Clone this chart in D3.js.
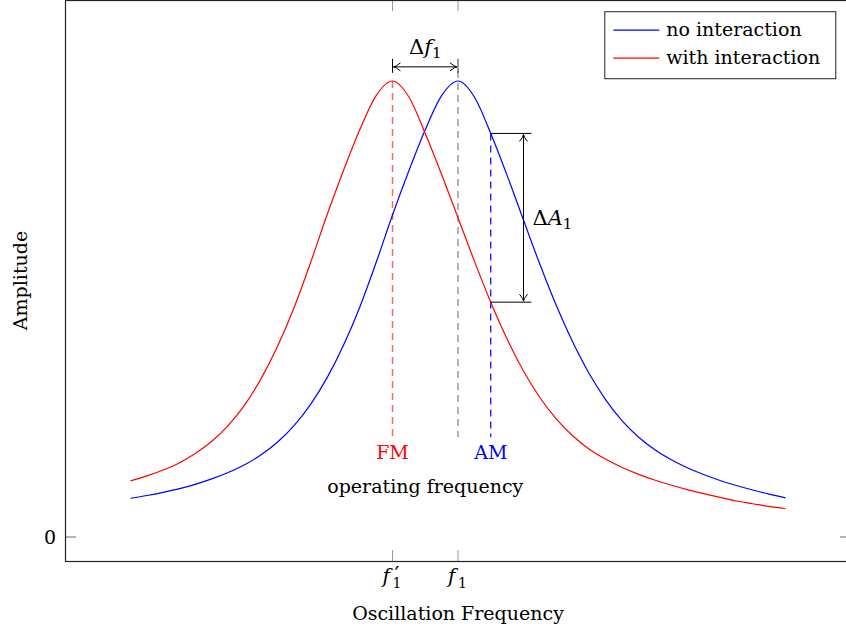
<!DOCTYPE html>
<html>
<head>
<meta charset="utf-8">
<script src="https://cdn.jsdelivr.net/npm/d3@7/dist/d3.min.js"></script>
<style>
  body { margin: 0; background: #fff; }
  svg { display: block; font-family: "DejaVu Serif", "Liberation Serif", serif; }
</style>
</head>
<body>
<svg id="chart"></svg>
<script>
// frequency grid (arbitrary units, f1 = 1.0)
const freq = [0.500,0.525,0.550,0.575,0.600,0.625,0.650,0.675,0.700,0.725,0.750,0.775,0.800,0.825,0.850,0.875,0.900,0.925,0.950,0.975,1.000,
              1.025,1.050,1.075,1.100,1.125,1.150,1.175,1.200,1.225,1.250,1.275,1.300,1.325,1.350,1.375,1.400,1.425,1.450,1.475,1.500];

// amplitude, peak normalised to 1
const ampNoInteraction = [0.085,0.091,0.098,0.106,0.116,0.128,0.142,0.159,0.181,0.209,0.245,0.291,0.349,0.420,0.504,0.602,0.706,0.803,0.893,0.968,1.000,
                          0.965,0.885,0.793,0.695,0.598,0.508,0.428,0.359,0.302,0.256,0.220,0.192,0.170,0.152,0.137,0.124,0.113,0.103,0.094,0.086];
const ampWithInteraction = [0.123,0.134,0.147,0.163,0.184,0.211,0.246,0.291,0.349,0.420,0.504,0.602,0.706,0.803,0.893,0.968,1.000,
                            0.965,0.885,0.795,0.700,0.605,0.515,0.434,0.364,0.306,0.259,0.222,0.193,0.171,0.153,0.138,0.125,0.114,0.104,0.095,0.087,0.079,0.073,0.067,0.062];

const seriesNames = ["no interaction", "with interaction"];
const seriesColors = ["#0000ff", "#ff0000"];

// x ticks: f1' and f1  (base, superscript, subscript)
const xTickValues = [0.9, 1.0];
const xTickLabels = [["f", "′", "1"], ["f", "", "1"]];
const yTickValues = [0];

// operating points
const fPrime = 0.9, f1 = 1.0, fAM = 1.05;
const markerBottom = 0.219;       // where the dashed markers stop
const ampAtAM_blue = 0.885, ampAtAM_red = 0.515;

let svg = d3.select("#chart")
    .attr("width", 846)
    .attr("height", 633),
  margin = {top: 0, right: 0, bottom: 72, left: 65},
  width = 786,
  height = 561,
  g = svg.append("g").attr("transform", "translate(" + margin.left + "," + margin.top + ")");

let x = d3.scaleLinear().domain([0.4, 1.6]).range([0, width]);
let y = d3.scaleLinear().domain([-0.0526, 1.1776]).range([height, 0]);

// ticks (inside, both sides)
g.selectAll(".xtick-b").data(xTickValues).enter().append("line")
  .attr("x1", d => x(d)).attr("x2", d => x(d))
  .attr("y1", height).attr("y2", height - 11)
  .attr("stroke", "#9a9a9a").attr("stroke-width", 1);
g.selectAll(".xtick-t").data(xTickValues).enter().append("line")
  .attr("x1", d => x(d)).attr("x2", d => x(d))
  .attr("y1", 0).attr("y2", 11)
  .attr("stroke", "#9a9a9a").attr("stroke-width", 1);
g.selectAll(".ytick-l").data(yTickValues).enter().append("line")
  .attr("x1", 0).attr("x2", 11)
  .attr("y1", d => y(d)).attr("y2", d => y(d))
  .attr("stroke", "#9a9a9a").attr("stroke-width", 1.5);
g.selectAll(".ytick-r").data(yTickValues).enter().append("line")
  .attr("x1", width - 11).attr("x2", width)
  .attr("y1", d => y(d)).attr("y2", d => y(d))
  .attr("stroke", "#9a9a9a").attr("stroke-width", 1.5);

// tick labels: italic f, prime above, subscript 1 below (stacked)
let xl = g.selectAll(".xlabel").data(xTickValues).enter().append("g")
  .attr("transform", d => "translate(" + x(d) + "," + (height + 22) + ")");
xl.each(function(d, i) {
  let t = d3.select(this), lab = xTickLabels[i];
  t.append("text").attr("x", -10).attr("font-size", 20).attr("font-style", "italic").text(lab[0]);
  if (lab[1]) t.append("text").attr("x", 2).attr("y", -1).attr("font-size", 22).text(lab[1]);
  t.append("text").attr("x", 0).attr("y", 5).attr("font-size", 14).text(lab[2]);
});
g.selectAll(".ylabel").data(yTickValues).enter().append("text")
  .attr("x", -15).attr("y", d => y(d) + 7)
  .attr("text-anchor", "middle").attr("font-size", 19)
  .text(d => d);

// dashed markers
g.append("line")
  .attr("x1", x(f1)).attr("x2", x(f1))
  .attr("y1", y(1.0) - 10).attr("y2", y(markerBottom))
  .attr("stroke", "#8a8a8a").attr("stroke-width", 1.3).attr("stroke-dasharray", "7,5");
g.append("line")
  .attr("x1", x(fPrime)).attr("x2", x(fPrime))
  .attr("y1", y(1.0)).attr("y2", y(markerBottom))
  .attr("stroke", "#ff0000").attr("stroke-opacity", 0.6).attr("stroke-width", 1.5).attr("stroke-dasharray", "7,5");
g.append("line")
  .attr("x1", x(fAM)).attr("x2", x(fAM))
  .attr("y1", y(ampAtAM_blue)).attr("y2", y(markerBottom))
  .attr("stroke", "#0000ff").attr("stroke-width", 1.2).attr("stroke-dasharray", "7,5");

// curves
let line = d3.line()
  .x(d => x(d[0]))
  .y(d => y(d[1]))
  .curve(d3.curveMonotoneX);

[ampNoInteraction, ampWithInteraction].forEach((amp, i) => {
  g.append("path")
    .datum(freq.map((f, j) => [f, amp[j]]))
    .attr("fill", "none")
    .attr("stroke", seriesColors[i])
    .attr("stroke-width", 1.2)
    .attr("d", line);
});

// arrow helper (open "to" head)
function head(px, py, dir) {
  let l = 7, w = 4;
  let bx = px - l * Math.cos(dir), by = py - l * Math.sin(dir);
  let nx = -Math.sin(dir), ny = Math.cos(dir);
  let cx = px - 2 * Math.cos(dir), cy = py - 2 * Math.sin(dir);
  return "M" + (bx + nx * w) + "," + (by + ny * w) + " Q" + cx + "," + cy + " " + px + "," + py +
         " Q" + cx + "," + cy + " " + (bx - nx * w) + "," + (by - ny * w);
}

// delta f arrow
let yArrow = y(1.031);
g.append("line").attr("x1", x(fPrime)).attr("x2", x(fPrime)).attr("y1", yArrow - 8).attr("y2", yArrow + 6)
  .attr("stroke", "#000").attr("stroke-width", 1);
g.append("line").attr("x1", x(f1)).attr("x2", x(f1)).attr("y1", yArrow - 8).attr("y2", yArrow + 6)
  .attr("stroke", "#333").attr("stroke-width", 1);
g.append("line").attr("x1", x(fPrime) + 1).attr("x2", x(f1) - 1).attr("y1", yArrow).attr("y2", yArrow)
  .attr("stroke", "#000").attr("stroke-width", 1);
g.append("path").attr("d", head(x(fPrime) + 1, yArrow, Math.PI) + head(x(f1) - 1, yArrow, 0))
  .attr("fill", "none").attr("stroke", "#000").attr("stroke-width", 1);
let df = g.append("text").attr("x", (x(fPrime) + x(f1)) / 2).attr("y", yArrow - 13)
  .attr("text-anchor", "middle").attr("font-size", 21);
df.append("tspan").text("Δ");
df.append("tspan").attr("font-style", "italic").text("f");
df.append("tspan").attr("font-size", 15).attr("dy", 4).text("1");

// delta A arrow
let xA = x(1.1);
g.append("line").attr("x1", x(fAM)).attr("x2", x(1.112)).attr("y1", y(ampAtAM_blue)).attr("y2", y(ampAtAM_blue))
  .attr("stroke", "#000").attr("stroke-width", 1);
g.append("line").attr("x1", x(fAM)).attr("x2", x(1.112)).attr("y1", y(ampAtAM_red)).attr("y2", y(ampAtAM_red))
  .attr("stroke", "#000").attr("stroke-width", 1);
g.append("line").attr("x1", xA).attr("x2", xA).attr("y1", y(ampAtAM_blue) + 1).attr("y2", y(ampAtAM_red) - 1)
  .attr("stroke", "#000").attr("stroke-width", 1);
g.append("path").attr("d", head(xA, y(ampAtAM_blue) + 1, -Math.PI / 2) + head(xA, y(ampAtAM_red) - 1, Math.PI / 2))
  .attr("fill", "none").attr("stroke", "#000").attr("stroke-width", 1);
let da = g.append("text").attr("x", xA + 9).attr("y", y((ampAtAM_blue + ampAtAM_red) / 2) + 7)
  .attr("font-size", 21);
da.append("tspan").text("Δ");
da.append("tspan").attr("font-style", "italic").text("A");
da.append("tspan").attr("font-size", 15).attr("dy", 4).text("1");

// FM / AM labels
g.append("text").attr("x", x(fPrime)).attr("y", y(0.186) + 7)
  .attr("text-anchor", "middle").attr("font-size", 19).attr("fill", "#ff0000").text("FM");
g.append("text").attr("x", x(fAM)).attr("y", y(0.186) + 7)
  .attr("text-anchor", "middle").attr("font-size", 19).attr("fill", "#0000ff").text("AM");
g.append("text").attr("x", x(0.95)).attr("y", y(0.11) + 6)
  .attr("text-anchor", "middle").attr("font-size", 19).text("operating frequency");

// axis frame
g.append("rect")
  .attr("x", 0.5).attr("y", 0.5)
  .attr("width", width).attr("height", height)
  .attr("fill", "none").attr("stroke", "#222").attr("stroke-width", 1.2);

// axis titles
svg.append("text")
  .attr("transform", "translate(27," + (height / 2) + ") rotate(-90)")
  .attr("text-anchor", "middle").attr("font-size", 19)
  .text("Amplitude");
svg.append("text")
  .attr("x", margin.left + x(1.0)).attr("y", 620)
  .attr("text-anchor", "middle").attr("font-size", 19)
  .text("Oscillation Frequency");

// legend
let legW = 231, legH = 67,
  legX = width - 0.02 * width - legW, legY = 0.02 * height;
let leg = g.append("g").attr("transform", "translate(" + legX + "," + legY + ")");
leg.append("rect").attr("x", 0.5).attr("y", 0.5).attr("width", legW).attr("height", legH)
  .attr("fill", "#fff").attr("stroke", "#222").attr("stroke-width", 1);
seriesNames.forEach((name, i) => {
  let ry = 19 + i * 28;
  leg.append("line").attr("x1", 9).attr("x2", 55).attr("y1", ry).attr("y2", ry)
    .attr("stroke", seriesColors[i]).attr("stroke-width", 1.2);
  leg.append("text").attr("x", 62).attr("y", ry + 6).attr("font-size", 19).text(name);
});
</script>
</body>
</html>
